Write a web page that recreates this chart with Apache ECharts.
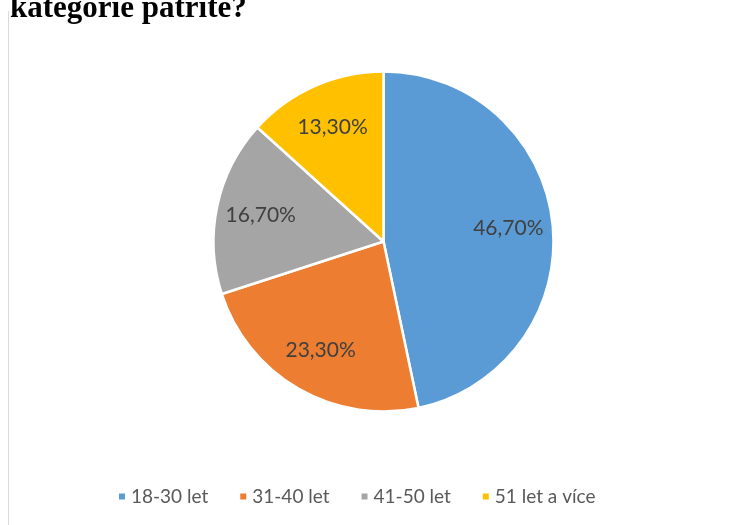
<!DOCTYPE html>
<html>
<head>
<meta charset="utf-8">
<script src="https://cdn.jsdelivr.net/npm/echarts@6/dist/echarts.min.js"></script>
<style>
  html, body { margin: 0; padding: 0; background: #ffffff; }
  #chart { width: 752px; height: 525px; }
</style>
</head>
<body>
<div id="chart"></div>
<script>
// Age groups and their shares (%)
const categories = ['18-30 let', '31-40 let', '41-50 let', '51 let a více'];
const shares = [46.7, 23.3, 16.7, 13.3];
const colors = ['#5B9BD5', '#ED7D31', '#A5A5A5', '#FFC000'];
const titleText = 'kategorie patríte?';

const pieData = categories.map((name, i) => ({
  name: name,
  value: shares[i],
  itemStyle: { color: colors[i] }
}));

const fmt = p => p.value.toFixed(2).replace('.', ',') + '%';
const labelFont = 'Lato, "Open Sans", sans-serif';

const chart = echarts.init(document.getElementById('chart'), null, { renderer: 'canvas' });
chart.setOption({
  backgroundColor: '#ffffff',
  animation: false,
  graphic: [
    {
      type: 'line',
      shape: { x1: 8.5, y1: 11, x2: 8.5, y2: 525 },
      style: { stroke: '#d9d9d9', lineWidth: 1 },
      silent: true
    },
    {
      type: 'text',
      x: 10,
      y: 9,
      style: {
        text: titleText,
        font: 'bold 31px "Liberation Serif", "Times New Roman", serif',
        fill: '#000000',
        verticalAlign: 'middle',
        align: 'left'
      },
      silent: true
    }
  ],
  legend: {
    data: categories,
    left: 112,
    top: 482,
    icon: 'rect',
    itemWidth: 8,
    itemHeight: 8,
    itemGap: 30,
    selectedMode: false,
    textStyle: { fontFamily: labelFont, fontSize: 19, color: '#595959' }
  },
  series: [
    {
      type: 'pie',
      center: [383.5, 241.5],
      radius: [0, 170],
      startAngle: 90,
      clockwise: true,
      silent: true,
      label: { show: false },
      labelLine: { show: false },
      itemStyle: { borderColor: '#ffffff', borderWidth: 2.5 },
      data: pieData
    },
    {
      // transparent companion ring that carries the value labels further out
      type: 'pie',
      center: [383.5, 241.5],
      radius: [0, 245],
      startAngle: 90,
      clockwise: true,
      silent: true,
      itemStyle: { color: 'rgba(0,0,0,0)', borderWidth: 0 },
      label: {
        show: true,
        position: 'inside',
        formatter: fmt,
        fontFamily: labelFont,
        fontSize: 21,
        color: '#404040'
      },
      labelLine: { show: false },
      data: categories.map((name, i) => ({ name: name, value: shares[i] }))
    }
  ]
});
</script>
</body>
</html>
